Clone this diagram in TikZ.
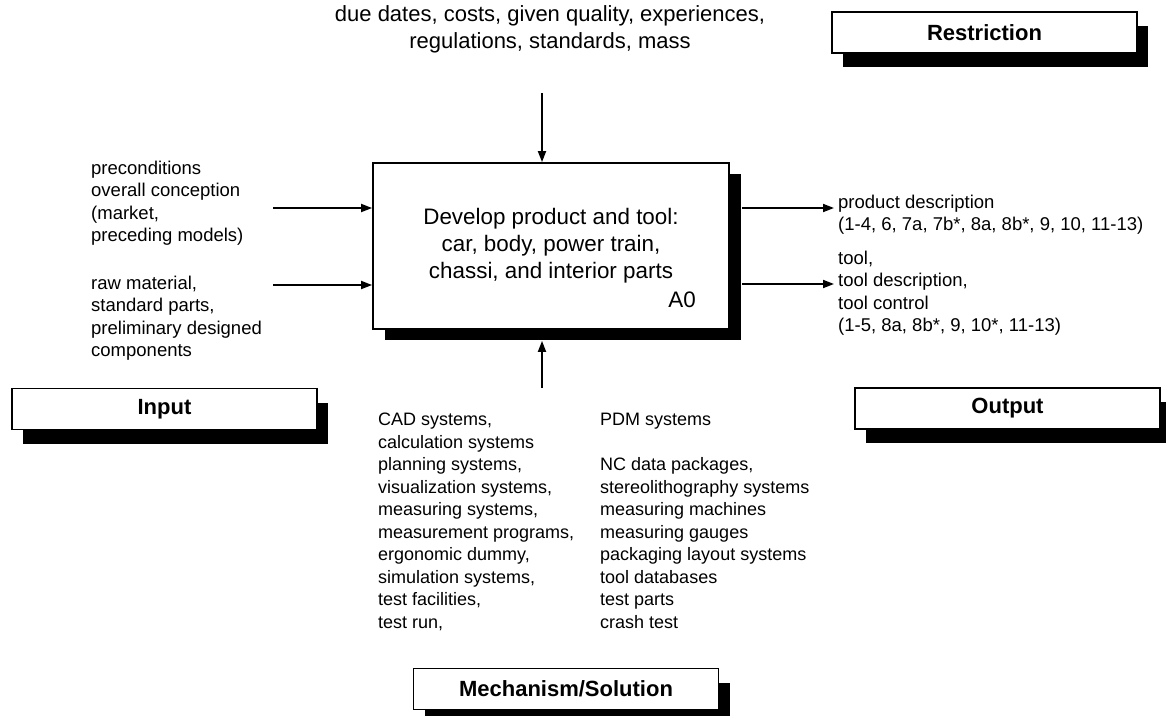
\documentclass[tikz,border=0pt]{standalone}
\usepackage{fontspec}
\setmainfont{Liberation Sans}
\usetikzlibrary{arrows.meta,shadows}
\begin{document}
\begin{tikzpicture}[x=1pt,y=-1pt,
  every node/.style={inner sep=0pt},
  arr/.style={line width=1.8pt, -{Triangle[length=11pt,width=8pt]}},
  shadebox/.style={draw, line width=1.8pt, fill=white,
    drop shadow={shadow xshift=11pt, shadow yshift=-14pt, fill=black, opacity=1}},
  labelbox/.style={shadebox, minimum width=305pt, minimum height=41pt,
    font=\fontsize{22}{26}\selectfont\bfseries},
  body/.style={font=\fontsize{18.5}{22.2}\selectfont, align=left, anchor=north west},
  mechtext/.style={body, font=\fontsize{18}{22.5}\selectfont},
]
\useasboundingbox (0,0) rectangle (1166,715);

% activity box A0
\node[draw, line width=1.8pt, fill=white, minimum width=356pt, minimum height=166pt,
  align=center, font=\fontsize{22.4}{27}\selectfont,
  drop shadow={shadow xshift=12pt, shadow yshift=-11pt, fill=black, opacity=1}]
  (main) at (551,246) {Develop product and tool:\\car, body, power train,\\chassi, and interior parts};
\node[font=\fontsize{22.4}{27}\selectfont, anchor=east] (a0) at (696,300) {A0};

% controls (top)
\node[font=\fontsize{22}{27}\selectfont, align=center, anchor=north] (ctrl) at (550,5)
  {due dates, costs, given quality, experiences,\\regulations, standards, mass};
\coordinate (ctrlstart) at (542,93);
\draw[arr] (ctrlstart) -- (ctrlstart |- main.north);

% inputs (left)
\node[body] (in1) at (91,161) {preconditions\\overall conception\\(market,\\preceding models)};
\node[body] (in2) at (91,276) {raw material,\\standard parts,\\preliminary designed\\components};
\coordinate (i1) at (273,208);
\coordinate (i2) at (273,285);
\draw[arr] (i1) -- (i1 -| main.west);
\draw[arr] (i2) -- (i2 -| main.west);

% outputs (right)
\coordinate (o1) at (834,208);
\coordinate (o2) at (834,284);
\draw[arr] ([xshift=12pt]o1 -| main.east) -- (o1);
\draw[arr] ([xshift=12pt]o2 -| main.east) -- (o2);
\node[body] (out1) at (838,195) {product description\\(1-4, 6, 7a, 7b*, 8a, 8b*, 9, 10, 11-13)};
\node[body] (out2) at (838,251) {tool,\\tool description,\\tool control\\(1-5, 8a, 8b*, 9, 10*, 11-13)};

% mechanisms (bottom)
\coordinate (m0) at (542,388);
\draw[arr] (m0) -- ([yshift=-11pt]m0 |- main.south);
\node[mechtext] (mechA) at (378,413)
  {CAD systems,\\calculation systems\\planning systems,\\visualization systems,\\measuring systems,\\measurement programs,\\ergonomic dummy,\\simulation systems,\\test facilities,\\test run,};
\node[mechtext] (mechB) at (600,413)
  {PDM systems\\[22.5pt]NC data packages,\\stereolithography systems\\measuring machines\\measuring gauges\\packaging layout systems\\tool databases\\test parts\\crash test};

% ICOM labels
\node[labelbox] (restr) at (984.5,32.5) {Restriction};
\node[labelbox] (inp) at (164.5,409) {Input};
\node[labelbox] (outp) at (1007.5,408.5) {Output};
\node[labelbox] (mech) at (566,689) {Mechanism/Solution};
\end{tikzpicture}
\end{document}
